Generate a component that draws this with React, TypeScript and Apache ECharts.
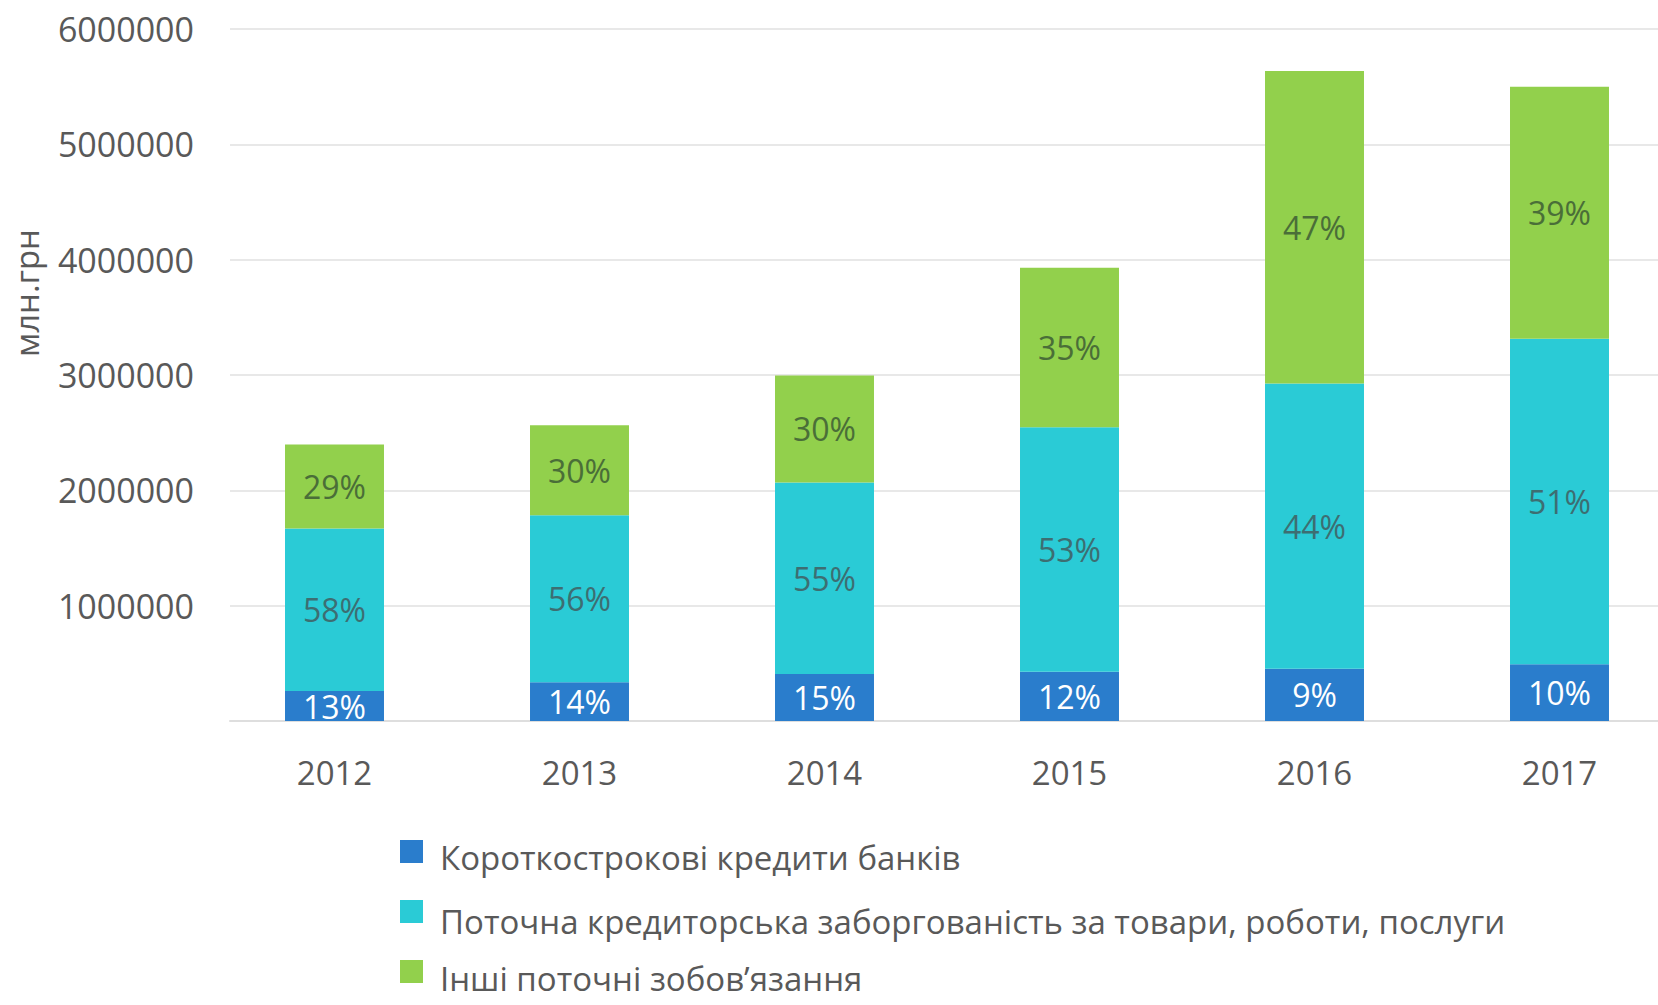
import React, { useEffect, useRef } from "react";
import * as echarts from "echarts";

const years = ["2012", "2013", "2014", "2015", "2016", "2017"];
const bankLoans = [260000, 335000, 408000, 427000, 454000, 493000];
const tradePayables = [1409000, 1449000, 1661000, 2119000, 2472000, 2822000];
const otherLiabilities = [728000, 780000, 926000, 1384000, 2710000, 2185000];
const bankPct = [13, 14, 15, 12, 9, 10];
const tradePct = [58, 56, 55, 53, 44, 51];
const otherPct = [29, 30, 30, 35, 47, 39];
const seriesNames = [
  "Короткострокові кредити банків",
  "Поточна кредиторська заборгованість за товари, роботи, послуги",
  "Інші поточні зобов\u2019язання",
];
const yTicks = [0, 1000000, 2000000, 3000000, 4000000, 5000000, 6000000];
const yAxisTitle = "млн.грн";

const FONT = "'Open Sans', 'Noto Sans', sans-serif";
const COLORS = ["#2a7dcc", "#2acbd6", "#92d04c"];
const GRID_TOP = 29;
const GRID_BOTTOM = 284;
const LEGEND_TEXT_TOPS = [841, 905, 962];

export default function App() {
  const ref = useRef<HTMLDivElement>(null);
  useEffect(() => {
    if (!ref.current) return;
    const chart = echarts.init(ref.current, null, { renderer: "svg" });
    const mkLabel = (pcts: number[], color: string) => ({
      show: true,
      position: "inside",
      color,
      fontSize: 32,
      fontFamily: FONT,
      formatter: (p: any) => pcts[p.dataIndex] + "%",
    });
    const yMin = yTicks[0];
    const yMax = yTicks[yTicks.length - 1];
    const textLegends = seriesNames.map((n, i) => ({
      orient: "vertical",
      left: 435,
      top: LEGEND_TEXT_TOPS[i],
      padding: 0,
      itemWidth: 0,
      itemHeight: 30,
      icon: "none",
      selectedMode: false,
      data: [n],
      textStyle: {
        fontFamily: FONT,
        fontSize: 33,
        lineHeight: 30,
        color: "#595959",
      },
    }));
    chart.setOption({
      animation: false,
      textStyle: { fontFamily: FONT },
      grid: [
        {
          left: 212,
          width: 1470,
          top: GRID_TOP,
          bottom: GRID_BOTTOM,
          containLabel: false,
          outerBoundsMode: "none",
        },
        {
          left: 230,
          right: 0,
          top: GRID_TOP,
          bottom: GRID_BOTTOM,
          containLabel: false,
          outerBoundsMode: "none",
        },
      ],
      legend: [
        {
          orient: "vertical",
          left: 400,
          top: 840,
          padding: 0,
          itemWidth: 23,
          itemHeight: 23,
          itemGap: 37,
          icon: "rect",
          selectedMode: false,
          formatter: () => "",
          data: seriesNames,
        },
        ...textLegends,
      ],
      xAxis: [
        {
          type: "category",
          gridIndex: 0,
          data: years,
          axisTick: { show: false },
          axisLine: { show: false },
          axisLabel: { color: "#595959", fontSize: 33, fontFamily: FONT, margin: 35 },
        },
        {
          type: "value",
          gridIndex: 1,
          min: 0,
          max: 1,
          axisLine: { show: true, lineStyle: { color: "#dedede", width: 2 } },
          axisTick: { show: false },
          axisLabel: { show: false },
          splitLine: { show: false },
        },
      ],
      yAxis: [
        {
          type: "value",
          gridIndex: 0,
          min: yMin,
          max: yMax,
          interval: 1000000,
          axisLine: { show: false },
          axisTick: { show: false },
          axisLabel: { show: false },
          splitLine: { show: false },
        },
        {
          type: "value",
          gridIndex: 1,
          min: yMin,
          max: yMax,
          interval: 1000000,
          axisLine: { show: false },
          axisTick: { show: false },
          splitLine: { lineStyle: { color: "#e8e8e8", width: 2 } },
          axisLabel: {
            color: "#595959",
            fontSize: 34,
            fontFamily: FONT,
            margin: 36,
            formatter: (v: number) => (v === 0 ? "" : String(v)),
          },
        },
      ],
      graphic: [
        {
          type: "text",
          x: 26,
          y: 293,
          rotation: Math.PI / 2,
          style: {
            text: yAxisTitle,
            fontSize: 33,
            fontFamily: FONT,
            fill: "#595959",
            align: "center",
            verticalAlign: "middle",
          },
        },
      ],
      series: [
        {
          name: seriesNames[0],
          type: "bar",
          stack: "total",
          xAxisIndex: 0,
          yAxisIndex: 0,
          barWidth: "40.4%",
          data: bankLoans,
          itemStyle: { color: COLORS[0] },
          label: mkLabel(bankPct, "#ffffff"),
        },
        {
          name: seriesNames[1],
          type: "bar",
          stack: "total",
          xAxisIndex: 0,
          yAxisIndex: 0,
          data: tradePayables,
          itemStyle: { color: COLORS[1] },
          label: mkLabel(tradePct, "#3d6e72"),
        },
        {
          name: seriesNames[2],
          type: "bar",
          stack: "total",
          xAxisIndex: 0,
          yAxisIndex: 0,
          data: otherLiabilities,
          itemStyle: { color: COLORS[2] },
          label: mkLabel(otherPct, "#4a6e38"),
        },
      ],
    });
    return () => chart.dispose();
  }, []);
  return (
    <div
      ref={ref}
      style={{ position: "absolute", left: 0, top: 0, width: 1658, height: 1005, background: "#fff" }}
    />
  );
}
